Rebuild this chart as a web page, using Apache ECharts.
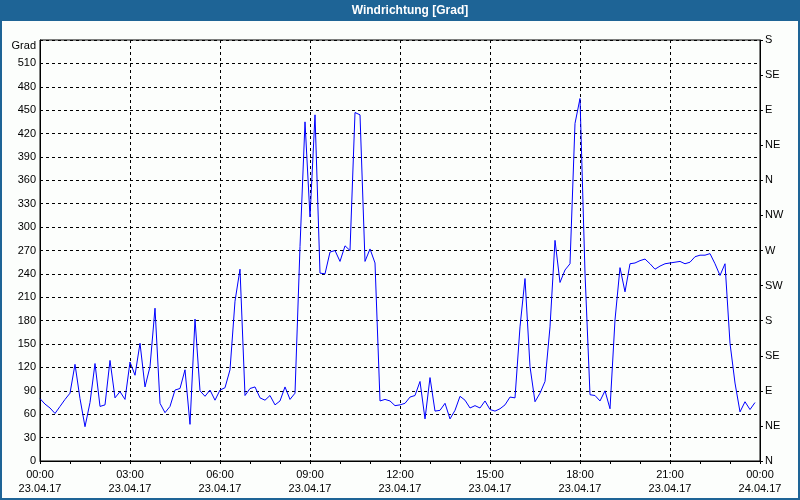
<!DOCTYPE html>
<html>
<head>
<meta charset="utf-8">
<script src="https://cdn.jsdelivr.net/npm/echarts@6/dist/echarts.min.js"></script>
<style>
html,body{margin:0;padding:0;background:#fcfefc;}
#chart{width:800px;height:500px;}
</style>
</head>
<body>
<div id="chart"></div>
<script>
// Wind direction in degrees, one reading every 10 minutes from 23.04.17 00:00
var stepMinutes = 10;
var windDirection = [
  80, 73, 68, 61, 70, 79, 87, 124, 80, 44,
  75, 125, 70, 72, 129, 81, 89, 79, 127, 110,
  151, 95, 121, 196, 74, 62, 70, 91, 93, 117,
  47, 182, 90, 83, 91, 78, 91, 94, 117, 205,
  246, 84, 93, 95, 81, 78, 84, 72, 77, 95,
  79, 87, 275, 435, 313, 444, 241, 240, 268, 270,
  256, 276, 270, 447, 444, 256, 272, 254, 77, 79,
  77, 71, 72, 74, 82, 84, 102, 54, 107, 64,
  65, 74, 54, 65, 83, 78, 68, 71, 68, 77,
  66, 64, 67, 72, 82, 81, 172, 234, 121, 76,
  87, 102, 172, 283, 229, 245, 253, 433, 465, 241,
  85, 84, 77, 90, 67, 181, 248, 217, 253, 254,
  257, 259, 253, 246, 250, 253, 254, 255, 256, 253,
  255, 262, 264, 264, 266, 253, 238, 253, 151, 100,
  63, 76, 66, 75
];
var compassLabels = ['N', 'NE', 'E', 'SE', 'S', 'SW', 'W', 'NW', 'N', 'NE', 'E', 'SE', 'S'];
var dayLabels = ['23.04.17', '24.04.17'];
var titleText = 'Windrichtung [Grad]';
var yUnit = 'Grad';

var seriesData = windDirection.map(function (v, i) { return [i * stepMinutes, v]; });

var font = 'Liberation Sans, Arial, sans-serif';
var chart = echarts.init(document.getElementById('chart'), null, {renderer: 'canvas'});
chart.setOption({
  animation: false,
  backgroundColor: '#fcfefc',
  graphic: [
    {type: 'rect', left: 0, top: 0, shape: {width: 800, height: 21}, style: {fill: '#1e6496'}, silent: true},
    {type: 'rect', left: 0, top: 0, shape: {width: 2, height: 500}, style: {fill: '#1e6496'}, silent: true},
    {type: 'rect', left: 798, top: 0, shape: {width: 2, height: 500}, style: {fill: '#1e6496'}, silent: true},
    {type: 'rect', left: 0, top: 498, shape: {width: 800, height: 2}, style: {fill: '#1e6496'}, silent: true},
    {type: 'text', x: 410, y: 11, style: {text: titleText, fill: '#ffffff', font: 'bold 12px ' + font, align: 'center', verticalAlign: 'middle'}, silent: true}
  ],
  grid: {left: 40, right: 40, top: 40, bottom: 39, show: true, borderColor: '#000', borderWidth: 1, backgroundColor: '#fcfefc', containLabel: false},
  xAxis: {
    type: 'value', min: 0, max: 1440, interval: 180,
    axisLine: {show: true, lineStyle: {color: '#000'}},
    axisTick: {show: true, length: 3, lineStyle: {color: '#000'}},
    minorTick: {show: true, splitNumber: 3, length: 3, lineStyle: {color: '#000'}},
    splitLine: {show: true, lineStyle: {color: '#000', type: [3, 3], width: 1}},
    axisLabel: {
      color: '#000', fontFamily: font, fontSize: 11, lineHeight: 14, margin: 7,
      showMinLabel: true, showMaxLabel: true,
      formatter: function (v) {
        var h = Math.round(v / 60);
        var day = h >= 24 ? dayLabels[1] : dayLabels[0];
        var hh = h % 24;
        return (hh < 10 ? '0' : '') + hh + ':00\n' + day;
      }
    }
  },
  yAxis: [
    {
      type: 'value', min: 0, max: 540, interval: 30, position: 'left',
      name: yUnit, nameLocation: 'end', nameGap: -6,
      nameTextStyle: {color: '#000', fontFamily: font, fontSize: 11, align: 'right', verticalAlign: 'middle', padding: [0, 4, 0, 0]},
      axisLine: {show: true, lineStyle: {color: '#000'}},
      axisTick: {show: false},
      splitLine: {show: true, lineStyle: {color: '#000', type: [3, 3], width: 1}},
      axisLabel: {color: '#000', fontFamily: font, fontSize: 11, margin: 4,
        formatter: function (v) { return v >= 540 ? '' : String(v); }}
    },
    {
      type: 'value', min: 0, max: 540, interval: 45, position: 'right',
      axisLine: {show: true, lineStyle: {color: '#000'}},
      axisTick: {show: true, length: 3, lineStyle: {color: '#000'}},
      splitLine: {show: false},
      axisLabel: {color: '#000', fontFamily: font, fontSize: 11, margin: 5,
        formatter: function (v) { return compassLabels[Math.round(v / 45)]; }}
    }
  ],
  series: [{
    type: 'line', yAxisIndex: 0, data: seriesData, showSymbol: false, symbol: 'none',
    lineStyle: {color: '#0000ff', width: 1}, itemStyle: {color: '#0000ff'}
  }]
});
</script>
</body>
</html>
